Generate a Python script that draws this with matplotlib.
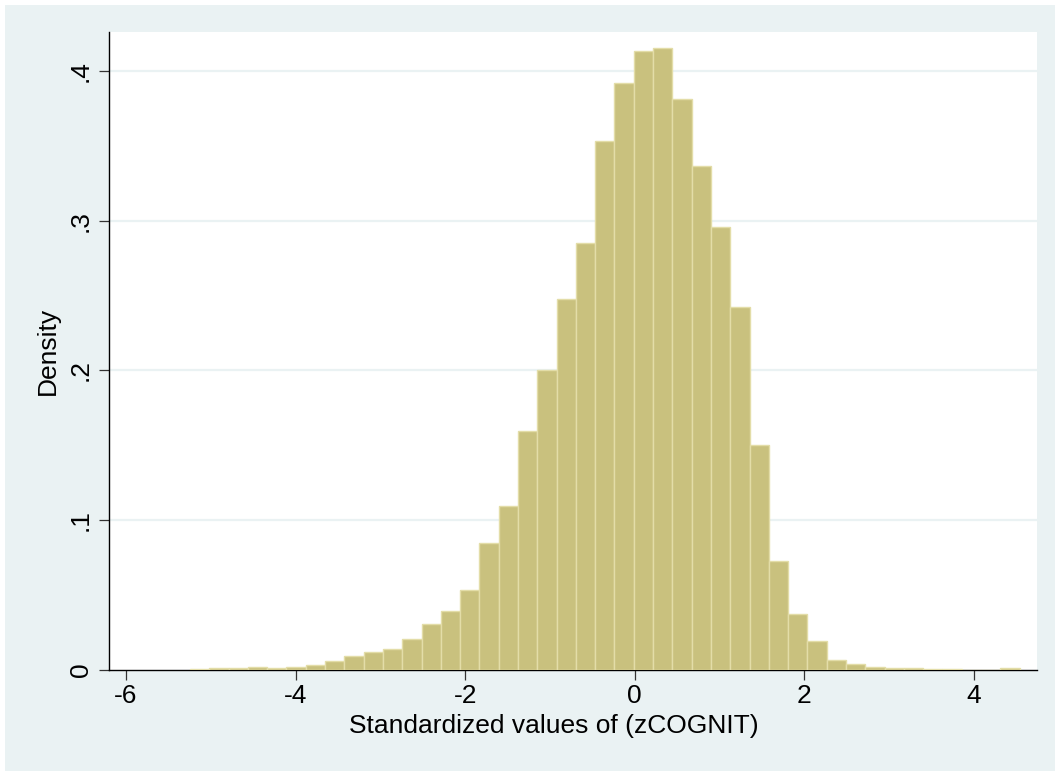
import numpy as np
import matplotlib
matplotlib.use("Agg")
import matplotlib.pyplot as plt
from matplotlib.patches import Rectangle

plt.rcParams['font.family'] = ['Liberation Sans', 'DejaVu Sans']

# Histogram data (density)
bin_start = -5.245
bin_width = 0.2275
density = [0.0005, 0.001, 0.001, 0.002, 0.0013, 0.002, 0.003, 0.006, 0.0089, 0.012,
           0.014, 0.0205, 0.0306, 0.0392, 0.0533, 0.0847, 0.1095, 0.1594, 0.2003, 0.2478,
           0.2856, 0.3538, 0.3926, 0.4138, 0.4158, 0.3817, 0.3369, 0.2961, 0.2426, 0.1502,
           0.0726, 0.037, 0.0191, 0.0062, 0.0036, 0.0016, 0.001, 0.0008, 0.0006, 0.0006,
           0.0, 0.0, 0.0008]
x_ticks = [-6, -4, -2, 0, 2, 4]
x_tick_labels = ['-6', '-4', '-2', '0', '2', '4']
y_ticks = [0, 0.1, 0.2, 0.3, 0.4]
y_tick_labels = ['0', '.1', '.2', '.3', '.4']
x_label = 'Standardized values of (zCOGNIT)'
y_label = 'Density'

W, H = 1055, 772
FS = 19
fig = plt.figure(figsize=(W / 100, H / 100), dpi=100, facecolor='white')
fig.patches.append(Rectangle((5 / W, 1 / H), 1 - 5 / W, (771 - 5) / H,
                             transform=fig.transFigure, facecolor='#EAF2F3',
                             edgecolor='none', zorder=-10))

ax = fig.add_axes([109 / W, 1 - 669.5 / H, (1036.7 - 109) / W, (669.5 - 32) / H])
ax.set_facecolor('white')

edges = bin_start + bin_width * np.arange(len(density) + 1)
ax.bar(edges[:-1], density, width=bin_width, align='edge',
       color='#C9C17E', edgecolor='#E3DDA8', linewidth=1.0, zorder=3)

ax.set_xlim(-6.2, 4.739)
ax.set_ylim(0, 0.4264)

ax.set_xticks(x_ticks)
ax.set_xticklabels(x_tick_labels)
ax.set_yticks(y_ticks)
ax.set_yticklabels(y_tick_labels, rotation=90, va='center')

for y in y_ticks[1:]:
    ax.axhline(y, color='#EAF2F3', linewidth=1.6, zorder=1)

for s in ['top', 'right']:
    ax.spines[s].set_visible(False)
for s in ['left', 'bottom']:
    ax.spines[s].set_color('black')
    ax.spines[s].set_linewidth(1.0)

ax.tick_params(axis='both', direction='out', length=7.5, width=0.9,
               color='#333333', labelsize=FS, labelcolor='black')
ax.tick_params(axis='x', pad=2.7)
ax.tick_params(axis='y', pad=4.0)

ax.set_xlabel(x_label, fontsize=FS)
ax.set_ylabel(y_label, fontsize=FS)
ax.xaxis.set_label_coords((553.5 - 109) / (1036.7 - 109), -0.0698)
ax.yaxis.set_label_coords(-0.0528, 0.5)

fig.savefig('out.png', dpi=100, facecolor=fig.get_facecolor())
